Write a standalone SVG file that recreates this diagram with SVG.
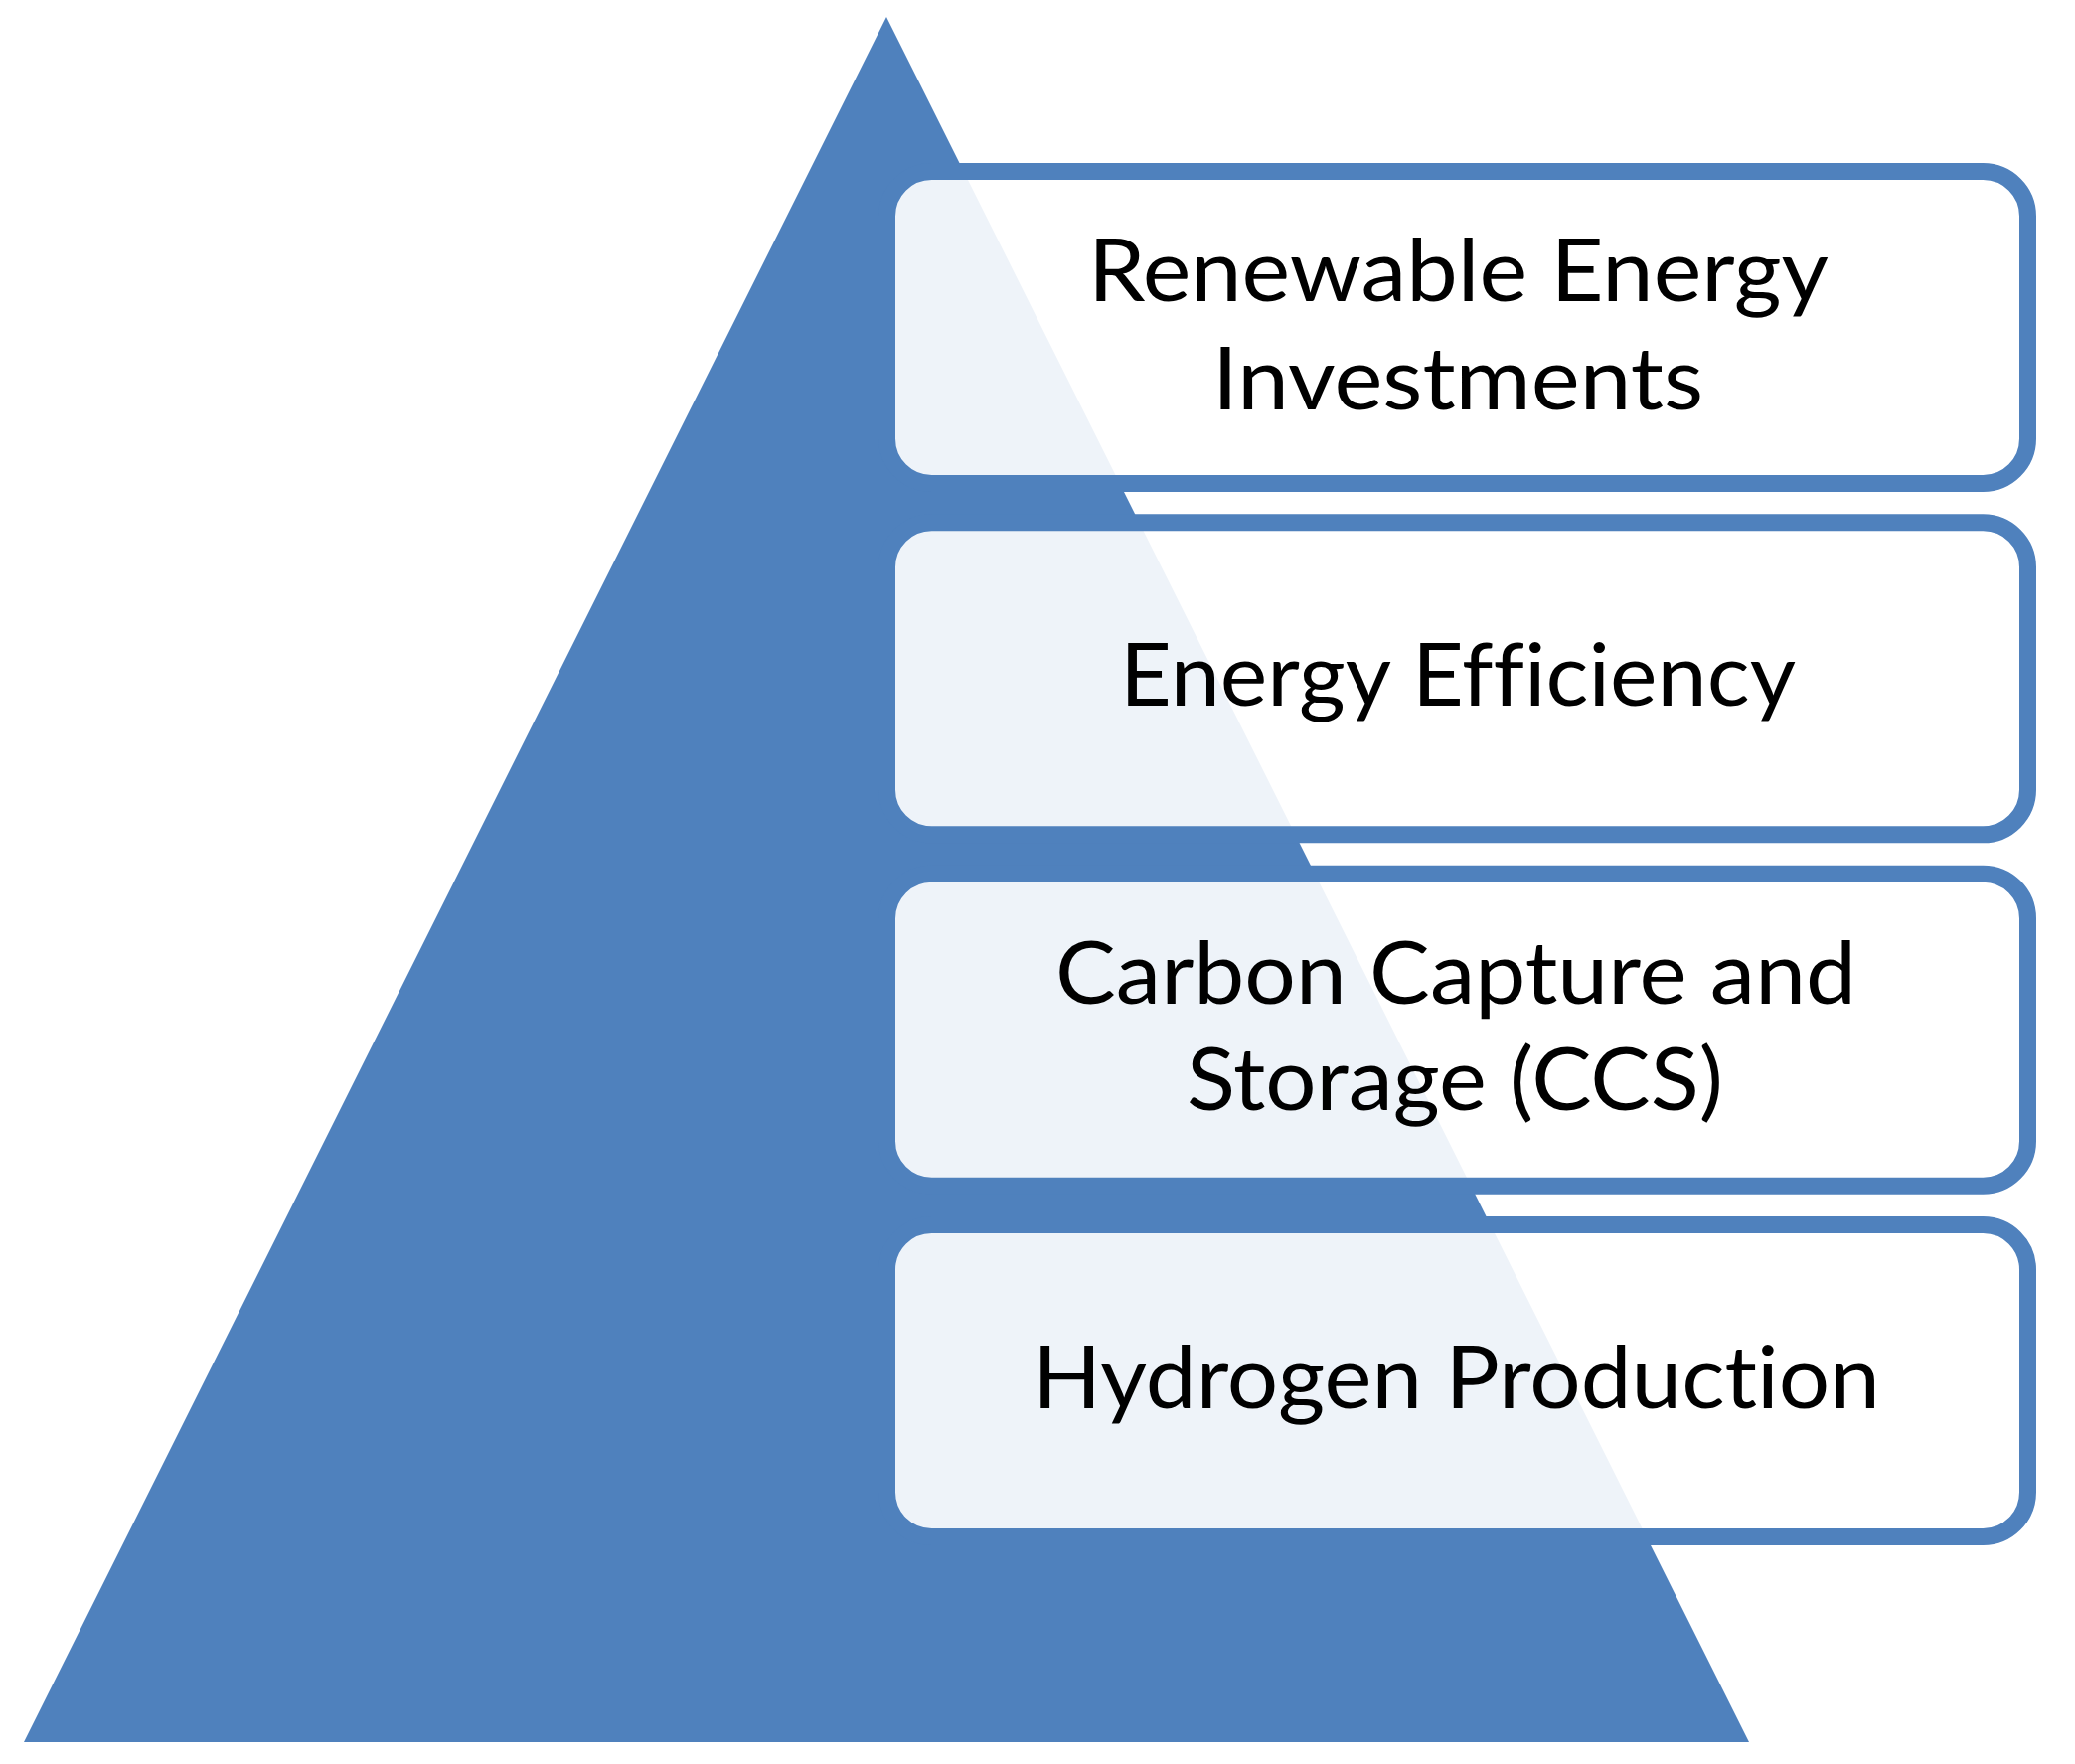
<svg xmlns="http://www.w3.org/2000/svg" width="2088" height="1775" viewBox="0 0 2088 1775">
<style>
.box{fill:#ffffff;fill-opacity:0.9;stroke:#4F81BD;stroke-width:17}
.lbl{font-family:Lato,"Noto Sans","Liberation Sans",sans-serif;font-size:88px;fill:#000000;font-variant-ligatures:none;font-feature-settings:"liga" 0,"dlig" 0,"clig" 0}
</style>
<rect x="0" y="0" width="2088" height="1775" fill="#ffffff"/>
<g id="pyramid">
<polygon points="892,17 24,1753 1760,1753" fill="#4F81BD"/>
</g>
<g id="node1">
<rect class="box" x="892.5" y="172.5" width="1148" height="314" rx="45"/>
<text class="lbl" x="1095" y="303" textLength="745" lengthAdjust="spacingAndGlyphs">Renewable Energy</text>
<text class="lbl" x="1220" y="412" textLength="494" lengthAdjust="spacingAndGlyphs">Investments</text>
</g>
<g id="node2">
<rect class="box" x="892.5" y="525.8" width="1148" height="314" rx="45"/>
<text class="lbl" x="1127" y="710" textLength="680" lengthAdjust="spacingAndGlyphs">Energy Efficiency</text>
</g>
<g id="node3">
<rect class="box" x="892.5" y="879.2" width="1148" height="314" rx="45"/>
<text class="lbl" x="1062" y="1010" textLength="806" lengthAdjust="spacingAndGlyphs">Carbon Capture and</text>
<text class="lbl" x="1194" y="1117" textLength="540" lengthAdjust="spacingAndGlyphs">Storage (CCS)</text>
</g>
<g id="node4">
<rect class="box" x="892.5" y="1232.5" width="1148" height="314" rx="45"/>
<text class="lbl" x="1039" y="1417" textLength="853" lengthAdjust="spacingAndGlyphs">Hydrogen Production</text>
</g>
<g id="connectors"></g>
</svg>
